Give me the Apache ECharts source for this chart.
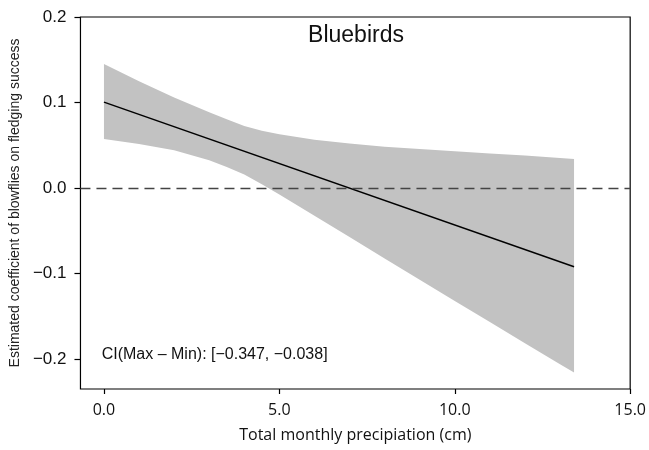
<!DOCTYPE html>
<html>
<head>
<meta charset="utf-8">
<script src="https://cdn.jsdelivr.net/npm/echarts@6/dist/echarts.min.js"></script>
<style>
  html, body { margin: 0; padding: 0; background: #fff; }
  #chart { width: 649px; height: 450px; }
</style>
</head>
<body>
<div id="chart"></div>
<script>
// values
var bandX = [0, 1, 2, 3, 3.5, 4, 4.5, 5, 6, 7, 8, 9, 10, 11, 12, 13, 13.4];
var bandUpper = [0.145, 0.125, 0.106, 0.0885, 0.0803, 0.0725, 0.0671, 0.063, 0.0566, 0.052, 0.0484, 0.0457, 0.043, 0.0403, 0.0379, 0.0352, 0.034];
var bandLower = [0.0574, 0.0515, 0.0441, 0.0325, 0.0245, 0.0158, 0.0045, -0.0076, -0.0325, -0.0574, -0.0823, -0.1072, -0.1321, -0.1566, -0.1814, -0.206, -0.2157];
var fitX = [0, 13.4];
var fitY = [0.1005, -0.092];
var xTicks = [0, 5, 10, 15];
var yTicks = [-0.2, -0.1, 0, 0.1, 0.2];
var ciText = 'CI(Max \u2013 Min): [\u22120.347, \u22120.038]';

var fitData = fitX.map(function (x, i) { return [x, fitY[i]]; });

var chart = echarts.init(document.getElementById('chart'));
chart.setOption({
    animation: false,
    title: {
        text: 'Bluebirds',
        left: 351,
        top: 19,
        textAlign: 'center',
        textStyle: { fontFamily: 'Liberation Sans', fontWeight: 'normal', fontSize: 23, color: '#111' }
    },
    grid: {
        left: 77.7, top: 17, right: 14, bottom: 61,
        show: true, borderColor: '#000', borderWidth: 1.2, backgroundColor: 'transparent'
    },
    xAxis: {
        type: 'value',
        min: -0.67,
        max: 15,
        axisLine: { show: false, onZero: false },
        splitLine: { show: false },
        axisTick: { customValues: xTicks, length: 5, lineStyle: { color: '#000', width: 1.2 } },
        axisLabel: {
            customValues: xTicks,
            margin: 13,
            fontFamily: 'Open Sans',
            fontSize: 16,
            color: '#111',
            formatter: function (v) { return v.toFixed(1); }
        },
        name: 'Total monthly precipiation (cm)',
        nameLocation: 'middle',
        nameGap: 38,
        nameTextStyle: { fontFamily: 'Open Sans', fontSize: 16, color: '#111' }
    },
    yAxis: {
        type: 'value',
        min: -0.235,
        max: 0.2,
        axisLine: { show: false, onZero: false },
        splitLine: { show: false },
        axisTick: { customValues: yTicks, length: 6, lineStyle: { color: '#000', width: 1.2 } },
        axisLabel: {
            customValues: yTicks,
            margin: 14,
            fontFamily: 'Liberation Sans',
            fontSize: 17,
            color: '#111',
            formatter: function (v) { return v.toFixed(1).replace('-', '\u2212'); }
        },
        name: 'Estimated coefficient of blowflies on fledging success',
        nameLocation: 'middle',
        nameGap: 58,
        nameTextStyle: { fontFamily: 'Liberation Sans', fontSize: 14, color: '#222' }
    },
    graphic: [{
        type: 'text',
        left: 101.7,
        top: 347,
        style: { text: ciText, font: '16px "Liberation Sans"', fill: '#111' }
    }],
    series: [
        {
            type: 'custom',
            silent: true,
            z: 1,
            data: [[0, 0]],
            renderItem: function (params, api) {
                var pts = [];
                for (var i = 0; i < bandX.length; i++) pts.push(api.coord([bandX[i], bandUpper[i]]));
                for (var j = bandX.length - 1; j >= 0; j--) pts.push(api.coord([bandX[j], bandLower[j]]));
                return { type: 'polygon', shape: { points: pts }, style: { fill: '#c2c2c2' } };
            }
        },
        {
            type: 'line',
            z: 3,
            data: fitData,
            symbol: 'none',
            lineStyle: { color: '#000', width: 1.5 },
            markLine: {
                silent: true,
                symbol: 'none',
                label: { show: false },
                lineStyle: { color: '#444', type: [10, 6], width: 1.3 },
                data: [{ yAxis: 0 }]
            }
        }
    ]
});
</script>
</body>
</html>
